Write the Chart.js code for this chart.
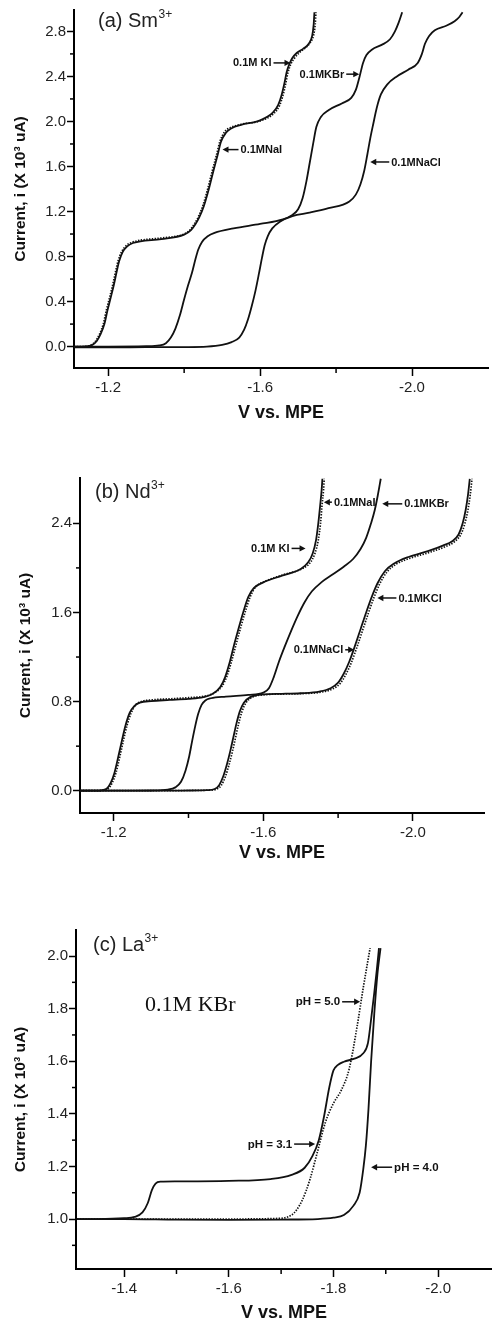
<!DOCTYPE html>
<html><head><meta charset="utf-8">
<script src="https://cdn.jsdelivr.net/npm/chart.js@4.4.1/dist/chart.umd.min.js"></script>
<style>
html,body{margin:0;padding:0;background:#fff;}
body{width:492px;height:1324px;position:relative;overflow:hidden;}
canvas{position:absolute;left:0;display:block;}
</style></head><body>
<canvas id="ca" width="492" height="428" style="top:0"></canvas>
<canvas id="cb" width="492" height="437" style="top:430px"></canvas>
<canvas id="cc" width="492" height="454" style="top:870px"></canvas>
<script>
// ---------- Panel (a) Sm3+ ----------
const aNaI_V = [-1.11,-1.13,-1.148,-1.158,-1.17,-1.18,-1.19,-1.198,-1.207,-1.215,-1.222,-1.229,-1.238,-1.25,-1.265,-1.285,-1.34,-1.40,-1.418,-1.43,-1.44,-1.452,-1.465,-1.477,-1.488,-1.497,-1.51,-1.525,-1.55,-1.60,-1.634,-1.648,-1.657,-1.664,-1.67,-1.677,-1.684,-1.697,-1.713,-1.728,-1.737,-1.741,-1.743];
const aNaI_I = [0,0,0.004,0.015,0.05,0.11,0.2,0.32,0.44,0.55,0.66,0.76,0.84,0.89,0.92,0.935,0.955,0.995,1.035,1.09,1.15,1.25,1.40,1.56,1.70,1.82,1.90,1.94,1.97,2.01,2.08,2.15,2.24,2.34,2.44,2.51,2.56,2.61,2.645,2.69,2.76,2.86,2.97];
const aKI_V = [-1.11,-1.13,-1.145,-1.155,-1.167,-1.177,-1.187,-1.195,-1.204,-1.212,-1.219,-1.226,-1.235,-1.247,-1.262,-1.285,-1.34,-1.40,-1.415,-1.427,-1.437,-1.449,-1.462,-1.474,-1.485,-1.494,-1.507,-1.525,-1.55,-1.60,-1.636,-1.651,-1.66,-1.667,-1.673,-1.681,-1.69,-1.703,-1.718,-1.732,-1.741,-1.745,-1.747];
const aKI_I = [0,0,0.004,0.015,0.05,0.11,0.2,0.32,0.44,0.55,0.66,0.76,0.84,0.895,0.925,0.945,0.965,1.0,1.035,1.09,1.15,1.25,1.40,1.56,1.70,1.82,1.91,1.95,1.975,2.005,2.07,2.14,2.23,2.33,2.43,2.51,2.56,2.61,2.65,2.70,2.77,2.86,2.97];
const aKBr_V = [-1.11,-1.20,-1.30,-1.335,-1.352,-1.365,-1.377,-1.389,-1.40,-1.41,-1.421,-1.43,-1.437,-1.447,-1.462,-1.48,-1.53,-1.60,-1.66,-1.685,-1.70,-1.712,-1.722,-1.731,-1.74,-1.748,-1.76,-1.78,-1.815,-1.84,-1.852,-1.862,-1.871,-1.88,-1.895,-1.92,-1.942,-1.955,-1.965,-1.974];
const aKBr_I = [0,0,0.003,0.01,0.03,0.08,0.16,0.28,0.42,0.54,0.66,0.78,0.86,0.93,0.98,1.01,1.05,1.09,1.13,1.17,1.22,1.32,1.47,1.64,1.81,1.95,2.04,2.10,2.16,2.21,2.28,2.40,2.52,2.59,2.64,2.68,2.73,2.80,2.88,2.97];
const aNaCl_V = [-1.11,-1.20,-1.30,-1.40,-1.46,-1.50,-1.525,-1.545,-1.558,-1.568,-1.578,-1.588,-1.597,-1.605,-1.612,-1.62,-1.632,-1.652,-1.685,-1.73,-1.78,-1.835,-1.852,-1.864,-1.874,-1.882,-1.89,-1.898,-1.907,-1.918,-1.935,-1.96,-1.99,-2.015,-2.026,-2.034,-2.045,-2.06,-2.09,-2.112,-2.125,-2.133];
const aNaCl_I = [-0.006,-0.006,-0.005,-0.004,0.0,0.015,0.04,0.08,0.15,0.24,0.36,0.5,0.65,0.79,0.9,0.98,1.05,1.11,1.16,1.19,1.23,1.29,1.35,1.44,1.56,1.70,1.85,1.98,2.12,2.24,2.33,2.40,2.46,2.52,2.60,2.69,2.76,2.81,2.85,2.89,2.93,2.97];

// ---------- Panel (b) Nd3+ ----------
const bKI_V = [-1.11,-1.15,-1.17,-1.182,-1.192,-1.202,-1.212,-1.222,-1.232,-1.243,-1.255,-1.27,-1.30,-1.35,-1.40,-1.44,-1.465,-1.485,-1.498,-1.51,-1.522,-1.535,-1.548,-1.56,-1.575,-1.60,-1.65,-1.70,-1.72,-1.732,-1.741,-1.747,-1.752,-1.756,-1.758];
const bKI_I = [0,0,0.005,0.02,0.07,0.16,0.30,0.45,0.59,0.70,0.76,0.79,0.805,0.815,0.825,0.84,0.87,0.93,1.02,1.15,1.31,1.47,1.62,1.74,1.82,1.87,1.93,1.99,2.05,2.13,2.25,2.40,2.56,2.70,2.80];
const bNaI_V = [-1.11,-1.15,-1.174,-1.186,-1.196,-1.206,-1.216,-1.226,-1.236,-1.247,-1.259,-1.274,-1.30,-1.35,-1.40,-1.445,-1.47,-1.49,-1.503,-1.515,-1.527,-1.54,-1.553,-1.565,-1.58,-1.605,-1.655,-1.705,-1.726,-1.738,-1.747,-1.753,-1.757,-1.761,-1.763];
const bNaI_I = [0,0,0.005,0.02,0.07,0.16,0.30,0.45,0.59,0.70,0.77,0.80,0.815,0.825,0.835,0.85,0.88,0.94,1.03,1.16,1.31,1.47,1.62,1.74,1.83,1.88,1.94,1.995,2.05,2.13,2.25,2.40,2.56,2.70,2.80];
const bKBr_V = [-1.11,-1.20,-1.30,-1.345,-1.365,-1.38,-1.392,-1.402,-1.41,-1.418,-1.426,-1.435,-1.445,-1.46,-1.50,-1.56,-1.60,-1.615,-1.628,-1.642,-1.658,-1.675,-1.692,-1.71,-1.73,-1.755,-1.785,-1.815,-1.84,-1.86,-1.875,-1.888,-1.898,-1.906,-1.914];
const bKBr_I = [0,0,0.002,0.01,0.03,0.08,0.18,0.31,0.45,0.58,0.69,0.77,0.81,0.83,0.845,0.86,0.88,0.92,1.02,1.16,1.30,1.44,1.57,1.69,1.79,1.87,1.94,2.01,2.08,2.17,2.27,2.40,2.52,2.65,2.80];
const bNaCl_V = [-1.11,-1.20,-1.30,-1.40,-1.45,-1.47,-1.482,-1.493,-1.503,-1.512,-1.52,-1.528,-1.537,-1.548,-1.565,-1.60,-1.65,-1.70,-1.75,-1.78,-1.80,-1.815,-1.83,-1.845,-1.86,-1.875,-1.89,-1.905,-1.925,-1.95,-1.99,-2.04,-2.08,-2.105,-2.122,-2.133,-2.141,-2.147,-2.152];
const bNaCl_I = [0,0,0,0.002,0.005,0.015,0.05,0.13,0.24,0.36,0.48,0.60,0.71,0.79,0.84,0.865,0.87,0.875,0.89,0.92,0.97,1.05,1.16,1.30,1.45,1.60,1.74,1.86,1.97,2.04,2.10,2.15,2.20,2.24,2.30,2.40,2.52,2.65,2.80];
const bKCl_V = [-1.11,-1.20,-1.30,-1.40,-1.455,-1.476,-1.488,-1.499,-1.509,-1.518,-1.526,-1.534,-1.543,-1.554,-1.571,-1.605,-1.655,-1.705,-1.755,-1.786,-1.806,-1.821,-1.836,-1.851,-1.866,-1.881,-1.896,-1.911,-1.931,-1.956,-1.995,-2.045,-2.086,-2.111,-2.128,-2.139,-2.147,-2.153,-2.158];
const bKCl_I = [0,0,0,0.002,0.005,0.015,0.05,0.13,0.24,0.36,0.48,0.60,0.71,0.79,0.84,0.862,0.868,0.872,0.885,0.915,0.965,1.045,1.155,1.295,1.445,1.595,1.735,1.855,1.965,2.035,2.09,2.14,2.19,2.235,2.30,2.40,2.52,2.65,2.80];

// ---------- Panel (c) La3+ (0.1M KBr) ----------
const cPH31_V = [-1.31,-1.35,-1.40,-1.42,-1.435,-1.445,-1.453,-1.46,-1.47,-1.50,-1.60,-1.68,-1.72,-1.745,-1.76,-1.772,-1.782,-1.792,-1.80,-1.808,-1.82,-1.84,-1.857,-1.866,-1.872,-1.878,-1.883,-1.887];
const cPH31_I = [1.0,1.0,1.003,1.008,1.025,1.06,1.11,1.135,1.142,1.143,1.145,1.152,1.168,1.195,1.24,1.30,1.39,1.50,1.565,1.585,1.598,1.61,1.63,1.67,1.76,1.86,1.95,2.03];
const cPH40_V = [-1.31,-1.40,-1.50,-1.60,-1.70,-1.77,-1.80,-1.82,-1.838,-1.85,-1.857,-1.862,-1.867,-1.872,-1.878,-1.884,-1.89];
const cPH40_I = [1.0,1.0,0.998,0.997,0.998,1.0,1.005,1.015,1.05,1.10,1.19,1.28,1.42,1.60,1.78,1.93,2.03];
const cPH50_V = [-1.31,-1.40,-1.50,-1.60,-1.69,-1.72,-1.74,-1.755,-1.77,-1.785,-1.80,-1.815,-1.83,-1.845,-1.857,-1.87];
const cPH50_I = [1.0,1.0,1.0,1.0,1.002,1.015,1.07,1.15,1.26,1.37,1.44,1.49,1.57,1.73,1.88,2.03];

// ---------- tick values ----------
const aYTicks = [0.0,0.4,0.8,1.2,1.6,2.0,2.4,2.8];
const aYMinor = [0.2,0.6,1.0,1.4,1.8,2.2,2.6];
const abXTicks = [-1.2,-1.6,-2.0];
const abXMinor = [-1.4,-1.8];
const bYTicks = [0.0,0.8,1.6,2.4];
const bYMinor = [0.4,1.2,2.0];
const cYTicks = [1.0,1.2,1.4,1.6,1.8,2.0];
const cYMinor = [0.9,1.1,1.3,1.5,1.7,1.9];
const cXTicks = [-1.4,-1.6,-1.8,-2.0];
const cXMinor = [-1.5,-1.7,-1.9];

const FONT = '"Liberation Sans", Arial, sans-serif';
const INK = '#111';

function pts(V, I){ return V.map((v,i)=>({x:v, y:I[i]})); }
function ds(V, I, dotted){
  return {data: pts(V,I), borderColor: INK, borderWidth: dotted?1.7:1.8,
          borderDash: dotted?[1.4,1.4]:[], pointRadius:0, fill:false,
          cubicInterpolationMode:'monotone'};
}

function decor(o){
  return {
    id: 'decor_'+o.key,
    afterDraw(chart){
      const ctx = chart.ctx, ca = chart.chartArea, x = chart.scales.x, y = chart.scales.y;
      ctx.save();
      ctx.strokeStyle = '#000'; ctx.lineWidth = 1.5;
      o.yMinor.forEach(v=>{ const py = y.getPixelForValue(v);
        ctx.beginPath(); ctx.moveTo(ca.left-4, py); ctx.lineTo(ca.left, py); ctx.stroke(); });
      o.xMinor.forEach(v=>{ const px = x.getPixelForValue(v);
        ctx.beginPath(); ctx.moveTo(px, ca.bottom); ctx.lineTo(px, ca.bottom+5); ctx.stroke(); });
      // panel title with superscript
      ctx.fillStyle = '#222'; ctx.textBaseline = 'middle'; ctx.textAlign = 'left';
      ctx.font = '20px ' + FONT;
      const tx = ca.left + o.titleDx, ty = ca.top + o.titleDy;
      ctx.fillText(o.title, tx, ty);
      const w = ctx.measureText(o.title).width;
      ctx.font = '12px ' + FONT;
      ctx.fillText(o.sup, tx + w + 0.5, ty - 6);
      // arrow notes
      ctx.fillStyle = INK; ctx.strokeStyle = INK; ctx.lineWidth = 1.5;
      o.notes.forEach(n=>{
        const px = x.getPixelForValue(n.x), py = y.getPixelForValue(n.y);
        ctx.font = 'bold ' + (o.noteSize||11) + 'px ' + FONT;
        ctx.textBaseline = 'middle';
        const dir = n.dir === 'right' ? 1 : -1;
        const tailX = px - dir*n.len;
        ctx.beginPath(); ctx.moveTo(tailX + dir*1, py); ctx.lineTo(px - dir*5, py); ctx.stroke();
        ctx.beginPath(); ctx.moveTo(px, py); ctx.lineTo(px - dir*6, py-3.2); ctx.lineTo(px - dir*6, py+3.2); ctx.closePath(); ctx.fill();
        ctx.textAlign = dir === 1 ? 'right' : 'left';
        ctx.fillText(n.t, tailX - dir*1, py + 0.5);
      });
      if (o.big){
        ctx.font = '22px "Liberation Serif", "Times New Roman", serif';
        ctx.textAlign = 'left'; ctx.textBaseline = 'middle'; ctx.fillStyle = '#111';
        ctx.fillText(o.big.t, x.getPixelForValue(o.big.x), y.getPixelForValue(o.big.y));
      }
      ctx.restore();
    }
  };
}

function build(id, datasets, o){
  const tickFont = {family: FONT, size: 15};
  return new Chart(document.getElementById(id), {
    type: 'line',
    data: {datasets},
    options: {
      responsive: false, animation: false,
      layout: {padding: o.pad},
      plugins: {legend: {display:false}, tooltip: {enabled:false}},
      scales: {
        x: {
          type: 'linear', reverse: true, min: o.xmin, max: o.xmax,
          afterBuildTicks: s => { s.ticks = o.xTicks.map(v=>({value:v})); },
          afterFit: s => { s.height = o.xH; },
          ticks: {callback: v => Number(v).toFixed(1), font: tickFont, color: '#222', padding: 3, maxRotation: 0, autoSkip: false},
          grid: {display: true, drawOnChartArea: false, drawTicks: true, tickLength: 8, tickWidth: 1.5, tickColor: '#000'},
          border: {display: true, color: '#000', width: 2},
          title: {display: true, text: 'V vs. MPE', color: '#111', font: {family: FONT, size: 18, weight: 'bold'}, padding: {top: 0, bottom: o.xtPad}}
        },
        y: {
          type: 'linear', min: o.ymin, max: o.ymax,
          afterBuildTicks: s => { s.ticks = o.yTicks.map(v=>({value:v})); },
          afterFit: s => { s.width = o.yW; },
          ticks: {callback: v => Number(v).toFixed(1), font: tickFont, color: '#222', padding: 1, autoSkip: false},
          grid: {display: true, drawOnChartArea: false, drawTicks: true, tickLength: 7, tickWidth: 1.5, tickColor: '#000'},
          border: {display: true, color: '#000', width: 2},
          title: {display: true, text: 'Current, i (X 10³ uA)', color: '#111', font: {family: FONT, size: 15.5, weight: 'bold'}, padding: {top: o.ytPad, bottom: 0}}
        }
      }
    },
    plugins: [decor(o)]
  });
}

build('ca', [
  ds(aNaI_V, aNaI_I, false), ds(aKI_V, aKI_I, true),
  ds(aKBr_V, aKBr_I, false), ds(aNaCl_V, aNaCl_I, false)
], {
  key:'a', pad:{top:7, right:4, left:0, bottom:0}, xmin:-2.2, xmax:-1.11, ymin:-0.19, ymax:2.99,
  xH:60, yW:74, xtPad:4, ytPad:11,
  xTicks: abXTicks, xMinor: abXMinor, yTicks: aYTicks, yMinor: aYMinor,
  title:'(a) Sm', sup:'3+', titleDx:24, titleDy:11,
  notes:[
    {t:'0.1M KI', x:-1.680, y:2.52, dir:'right', len:18},
    {t:'0.1MKBr', x:-1.861, y:2.42, dir:'right', len:14},
    {t:'0.1MNaI', x:-1.501, y:1.75, dir:'left', len:17},
    {t:'0.1MNaCl', x:-1.890, y:1.64, dir:'left', len:20}
  ]
});

build('cb', [
  ds(bKI_V, bKI_I, false), ds(bNaI_V, bNaI_I, true),
  ds(bKBr_V, bKBr_I, false),
  ds(bNaCl_V, bNaCl_I, false), ds(bKCl_V, bKCl_I, true)
], {
  key:'b', pad:{top:48, right:8, left:0, bottom:0}, xmin:-2.19, xmax:-1.11, ymin:-0.2, ymax:2.807,
  xH:54, yW:80, xtPad:3, ytPad:16,
  xTicks: abXTicks, xMinor: abXMinor, yTicks: bYTicks, yMinor: bYMinor,
  title:'(b) Nd', sup:'3+', titleDx:15, titleDy:14,
  notes:[
    {t:'0.1MNaI', x:-1.762, y:2.59, dir:'left', len:9},
    {t:'0.1MKBr', x:-1.918, y:2.575, dir:'left', len:21},
    {t:'0.1M KI', x:-1.713, y:2.175, dir:'right', len:15},
    {t:'0.1MKCl', x:-1.905, y:1.73, dir:'left', len:20},
    {t:'0.1MNaCl', x:-1.843, y:1.265, dir:'right', len:10}
  ]
});

build('cc', [
  ds(cPH31_V, cPH31_I, false), ds(cPH40_V, cPH40_I, false), ds(cPH50_V, cPH50_I, true)
], {
  key:'c', pad:{top:60, right:0, left:0, bottom:0}, xmin:-2.103, xmax:-1.308, ymin:0.81, ymax:2.099,
  xH:55, yW:76, xtPad:0, ytPad:11,
  xTicks: cXTicks, xMinor: cXMinor, yTicks: cYTicks, yMinor: cYMinor,
  title:'(c) La', sup:'3+', titleDx:17, titleDy:15,
  noteSize: 11.5,
  notes:[
    {t:'pH = 5.0', x:-1.851, y:1.826, dir:'right', len:19},
    {t:'pH = 3.1', x:-1.765, y:1.285, dir:'right', len:22},
    {t:'pH = 4.0', x:-1.872, y:1.197, dir:'left', len:22}
  ],
  big: {t:'0.1M KBr', x:-1.44, y:1.814}
});
</script>
</body></html>
